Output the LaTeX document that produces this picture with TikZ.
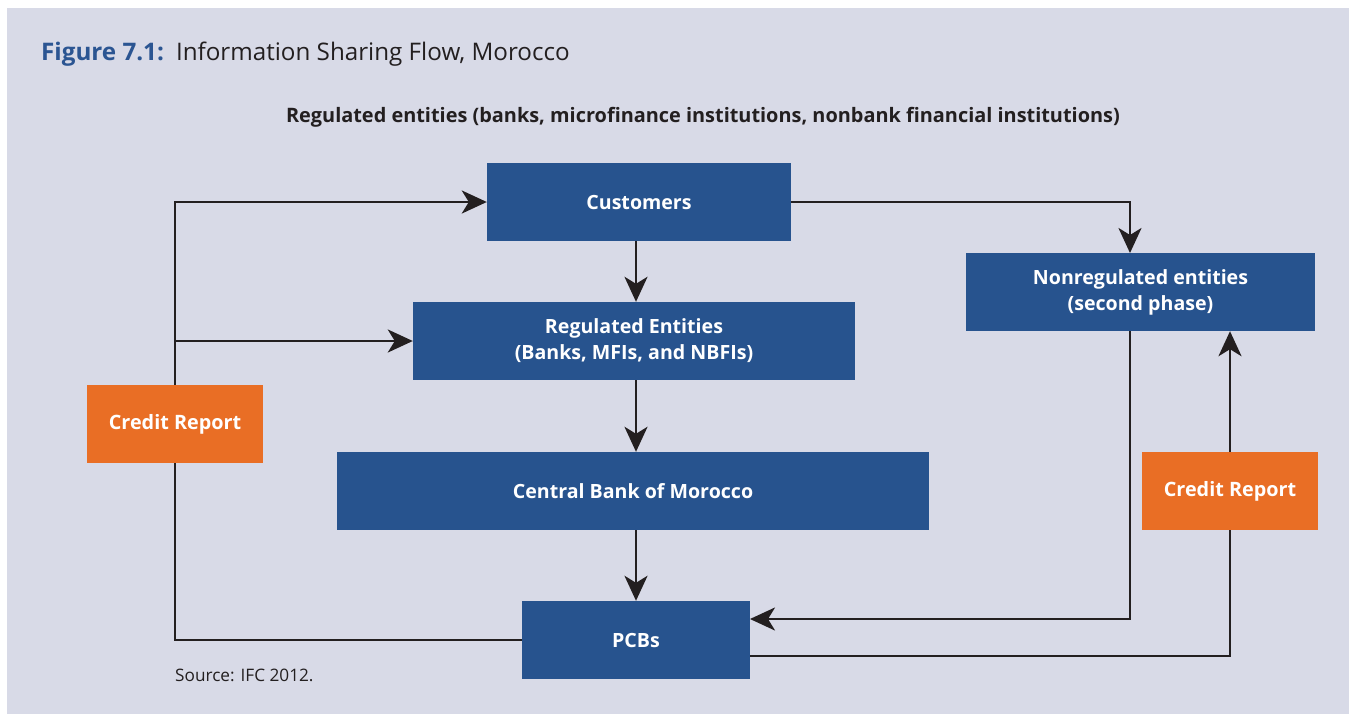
\documentclass[tikz,border=0pt]{standalone}
\usepackage{fontspec}
\setmainfont{Open Sans}
\usetikzlibrary{arrows.meta}
\definecolor{bgc}{HTML}{D8DAE7}
\definecolor{boxblue}{HTML}{27538E}
\definecolor{boxorange}{HTML}{E96E25}
\definecolor{titleblue}{HTML}{2B5592}
\definecolor{ink}{HTML}{231F20}
\tikzset{
  bluebox/.style={fill=boxblue, text=white, font=\fontsize{19.6}{26}\selectfont\bfseries, align=center, inner sep=0pt},
  orangebox/.style={fill=boxorange, text=white, font=\fontsize{19.8}{26}\selectfont\bfseries, align=center, inner sep=0pt, minimum width=176pt, minimum height=78pt},
  conn/.style={draw=ink, line width=2.7pt},
  arr/.style={conn, -{Stealth[length=25pt,width=23pt,inset=7pt]}},
}
\begin{document}
\begin{tikzpicture}[x=1pt,y=-1pt]
\useasboundingbox (0,0) rectangle (1349,715);
\fill[white] (0,0) rectangle (1349,715);
\fill[bgc] (7,8) rectangle (1349,714);
\node[anchor=base west, inner sep=0pt, font=\fontsize{24.2}{28}\selectfont, text=ink] (title) at (41,60) {\textcolor{titleblue}{\bfseries Figure 7.1:}\enspace Information Sharing Flow, Morocco};
\node[anchor=base, inner sep=0pt, font=\fontsize{19.9}{24}\selectfont\bfseries, text=ink] (head) at (703,122) {Regulated entities (banks, microfinance institutions, nonbank financial institutions)};
\node[anchor=base west, inner sep=0pt, font=\fontsize{17.2}{20}\selectfont, text=ink] (src) at (175,681) {Source: IFC 2012.};

\node[bluebox, minimum width=304pt, minimum height=78pt] (cust) at (639,202) {Customers};
\node[bluebox, minimum width=442pt, minimum height=78pt] (reg) at (634,341) {Regulated Entities\\(Banks, MFIs, and NBFIs)};
\node[bluebox, minimum width=592pt, minimum height=78pt] (cbm) at (633,491) {Central Bank of Morocco};
\node[bluebox, minimum width=228pt, minimum height=78pt] (pcb) at (636,640) {PCBs};
\node[bluebox, minimum width=349pt, minimum height=78pt] (nonreg) at (1140.5,292) {Nonregulated entities\\(second phase)};
\node[orangebox] (crL) at (175,424) {Credit Report};
\node[orangebox] (crR) at (1230,491) {Credit Report};

\coordinate (jL) at (175,341);
\coordinate (nTop) at (1130,253);
\coordinate (nBot) at (1130,331);
\coordinate (pIn) at (750,619);
\coordinate (pOut) at (750,656);

\draw[arr] (crL.north) |- (cust.west);
\draw[arr] (jL) -- (reg.west);
\draw[conn] (crL.south) |- (pcb.west);
\draw[arr] (cust.east) -| (nTop);
\draw[arr] (cust.south -| pcb.center) -- (reg.north -| pcb.center);
\draw[arr] (reg.south -| pcb.center) -- (cbm.north -| pcb.center);
\draw[arr] (cbm.south -| pcb.center) -- (pcb.north);
\draw[arr] (nBot) |- (pIn);
\draw[conn] (pOut) -| (crR.south);
\draw[arr] (crR.north) -- (crR.north |- nonreg.south);
\end{tikzpicture}
\end{document}
